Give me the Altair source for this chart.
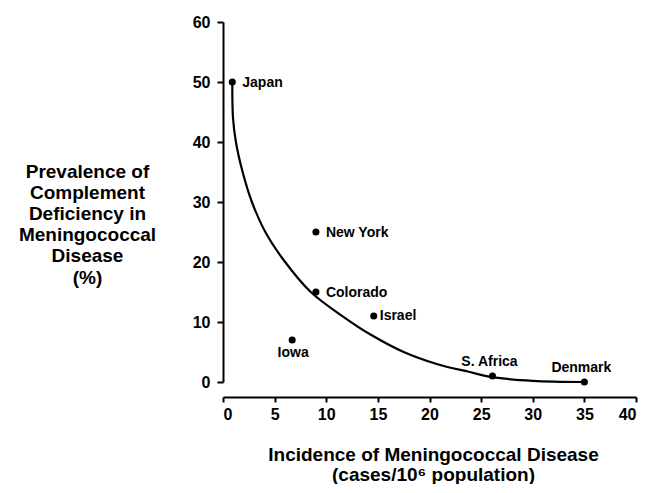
import altair as alt
import pandas as pd

# Data points (incidence per 10^6 population, prevalence of complement deficiency %)
places = ["Japan", "New York", "Colorado", "Israel", "Iowa", "S. Africa", "Denmark"]
incidence = [0.9, 9.0, 9.0, 14.6, 6.7, 26.1, 35.0]
prevalence = [50, 25, 15, 11, 7, 1, 0]

# Fitted curve
curve_x = [0.9, 0.97, 1.25, 1.9, 2.8, 4.1, 5.8, 8.5, 11.8, 14.2, 17.5, 20.7, 23.8, 26.1, 30.0, 35.0]
curve_y = [50, 44, 40, 35, 30, 25, 20.5, 15, 10.7, 8.0, 5.0, 3.0, 1.7, 0.8, 0.2, 0]

x_ticks = [0, 5, 10, 15, 20, 25, 30, 35, 40]
y_ticks = [0, 10, 20, 30, 40, 50, 60]

x_title = ["Incidence of Meningococcal Disease", "(cases/10\u2076 population)"]
y_title = ["Prevalence of", "Complement", "Deficiency in", "Meningococcal", "Disease", "(%)"]

pts = pd.DataFrame({"place": places, "x": incidence, "y": prevalence})
curve = pd.DataFrame({"x": curve_x, "y": curve_y, "i": list(range(len(curve_x)))})

FONT = "Liberation Sans"

x_enc = alt.X(
    "x:Q",
    scale=alt.Scale(domain=[0, 40], nice=False, zero=False),
    axis=alt.Axis(
        values=x_ticks, offset=15, tickSize=5, labelPadding=4, grid=False,
        title=x_title, titleX=210, titleY=63, titleAlign="center",
        titleBaseline="alphabetic", titleLineHeight=20, titleFontSize=19,
    ),
)
y_enc = alt.Y(
    "y:Q",
    scale=alt.Scale(domain=[0, 60], nice=False, zero=False),
    axis=alt.Axis(
        values=y_ticks, tickSize=6, labelPadding=7, grid=False,
        title=y_title, titleAngle=0, titleX=-136, titleY=155, titleAlign="center",
        titleBaseline="alphabetic", titleLineHeight=21.2, titleFontSize=19,
    ),
)

line = alt.Chart(curve).mark_line(color="black", strokeWidth=2.2, interpolate="catmull-rom").encode(
    x=x_enc, y=y_enc, order="i:Q"
)
dots = alt.Chart(pts).mark_circle(color="black", size=50, opacity=1).encode(x=x_enc, y=y_enc)

def labels(names, **kw):
    return alt.Chart(pts).transform_filter(
        alt.FieldOneOfPredicate(field="place", oneOf=names)
    ).mark_text(font=FONT, fontWeight="bold", fontSize=14, color="black", **kw).encode(
        x=x_enc, y=y_enc, text="place:N"
    )

lab_right = labels(["Japan", "New York", "Colorado"], align="left", baseline="alphabetic", dx=10, dy=4.5)
lab_israel = labels(["Israel"], align="left", baseline="alphabetic", dx=6, dy=3.5)
lab_below = labels(["Iowa"], align="center", baseline="alphabetic", dx=1, dy=17)
lab_above = labels(["S. Africa", "Denmark"], align="center", baseline="alphabetic", dx=-3, dy=-10.5)

chart = alt.layer(line, dots, lab_right, lab_israel, lab_below, lab_above).properties(
    width=413, height=360,
    padding={"left": 215, "top": 14, "right": 8, "bottom": 102},
    autosize=alt.AutoSizeParams(type="none"),
).configure_view(stroke=None).configure_axis(
    domainColor="black", domainWidth=2, tickColor="black", tickWidth=2,
    labelColor="black", labelFont=FONT, labelFontWeight="bold", labelFontSize=16,
    titleColor="black", titleFont=FONT, titleFontWeight="bold",
)

chart.save("out.html", embed_options={"renderer": "svg", "actions": False})
